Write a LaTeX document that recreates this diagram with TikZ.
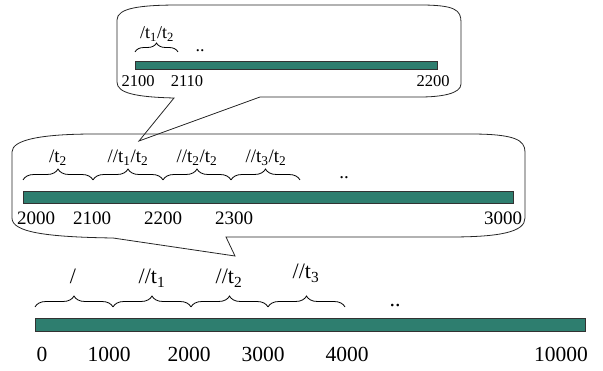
\documentclass[tikz,border=0pt]{standalone}
\usepackage{fontspec}
\setmainfont{Liberation Serif}
\usetikzlibrary{decorations.pathreplacing}
\definecolor{barteal}{RGB}{46,126,111}
\definecolor{barline}{RGB}{50,50,50}
\tikzset{
  bar/.style={draw=barline,line width=0.8pt,fill=barteal,inner sep=0pt,minimum height=#1},
  callout/.style={draw=black!85,line width=0.8pt},
  bigbrace/.style={decorate,decoration={brace,amplitude=11pt},line width=0.8pt},
  smallbrace/.style={decorate,decoration={brace,amplitude=9pt},line width=0.8pt},
  numA/.style={anchor=base,inner sep=0pt,font=\fontsize{21.5}{23}\selectfont},
  numB/.style={anchor=base,inner sep=0pt,font=\fontsize{19}{21}\selectfont},
  numC/.style={anchor=base,inner sep=0pt,font=\fontsize{16.5}{18}\selectfont},
  labA/.style={anchor=base,inner sep=0pt,font=\fontsize{22}{24}\selectfont},
  labB/.style={anchor=base,inner sep=0pt,font=\fontsize{19}{21}\selectfont},
  labC/.style={anchor=base,inner sep=0pt,font=\fontsize{18}{20}\selectfont},
}
\begin{document}
\begin{tikzpicture}[x=1pt,y=-1pt]
\useasboundingbox (0,0) rectangle (603,371);

% ---------- top callout ----------
\draw[callout] (117,20) .. controls (117,8) and (140,5) .. (180,5) -- (420,5)
  .. controls (455,5) and (461,10) .. (461,22) -- (461,84)
  .. controls (461,94) and (440,97) .. (420,97) -- (260,97) -- (139,141) -- (174,98)
  .. controls (135,97) and (117,93) .. (117,82) -- cycle;

% ---------- middle callout ----------
\draw[callout] (12,152) .. controls (12,140) and (40,134) .. (95,134) -- (470,134)
  .. controls (515,134) and (525,140) .. (525,152) -- (525,218)
  .. controls (525,232) and (500,237) .. (450,237) -- (226,237) -- (235,256) -- (113,238)
  .. controls (45,237) and (12,232) .. (12,218) -- cycle;

% ---------- bars ----------
\node[bar=8pt,minimum width=302pt] (topbar) at (286,65) {};
\node[bar=12pt,minimum width=490pt] (midbar) at (268,197) {};
\node[bar=13pt,minimum width=550pt] (botbar) at (310,324.5) {};

% ---------- top labels ----------
\node[numC] (t2100) at (138,87) {2100};
\node[numC] (t2110) at (187,87) {2110};
\node[numC] (t2200) at (433,87) {2200};
\coordinate (tb1) at (135,52);
\coordinate (tb2) at (178,52);
\draw[smallbrace] (tb1) -- (tb2);
\node[labC] (tl1) at (157,39) {/t\textsubscript{1}/t\textsubscript{2}};
\node[labC] (tdots) at (200,52) {..};

% ---------- middle labels ----------
\node[numB] (m2000) at (36,225) {2000};
\node[numB] (m2100) at (92,225) {2100};
\node[numB] (m2200) at (163,225) {2200};
\node[numB] (m2300) at (234,225) {2300};
\node[numB] (m3000) at (503,225) {3000};
\coordinate (mb1) at (23,180);
\coordinate (mb2) at (93,180);
\coordinate (mb3) at (163,180);
\coordinate (mb4) at (231,180);
\coordinate (mb5) at (300,180);
\draw[bigbrace] (mb1) -- (mb2);
\draw[bigbrace] (mb2) -- (mb3);
\draw[bigbrace] (mb3) -- (mb4);
\draw[bigbrace] (mb4) -- (mb5);
\node[labB] (ml1) at (58,163) {/t\textsubscript{2}};
\node[labB] (ml2) at (128,163) {//t\textsubscript{1}/t\textsubscript{2}};
\node[labB] (ml3) at (197,163) {//t\textsubscript{2}/t\textsubscript{2}};
\node[labB] (ml4) at (266,163) {//t\textsubscript{3}/t\textsubscript{2}};
\node[labB] (mdots) at (344,179) {..};

% ---------- bottom labels ----------
\node[numA] (b0) at (42,362) {0};
\node[numA] (b1000) at (109,362) {1000};
\node[numA] (b2000) at (189,362) {2000};
\node[numA] (b3000) at (263,362) {3000};
\node[numA] (b4000) at (347,362) {4000};
\node[numA] (b10000) at (561,362) {10000};
\coordinate (bb1) at (35,307);
\coordinate (bb2) at (113,307);
\coordinate (bb3) at (191,307);
\coordinate (bb4) at (268,307);
\coordinate (bb5) at (345,307);
\draw[bigbrace] (bb1) -- (bb2);
\draw[bigbrace] (bb2) -- (bb3);
\draw[bigbrace] (bb3) -- (bb4);
\draw[bigbrace] (bb4) -- (bb5);
\node[labA] (bl1) at (73,284) {/};
\node[labA] (bl2) at (152,284) {//t\textsubscript{1}};
\node[labA] (bl3) at (229,284) {//t\textsubscript{2}};
\node[labA] (bl4) at (306,279) {//t\textsubscript{3}};
\node[labA] (bdots) at (395,307) {..};
\end{tikzpicture}
\end{document}
